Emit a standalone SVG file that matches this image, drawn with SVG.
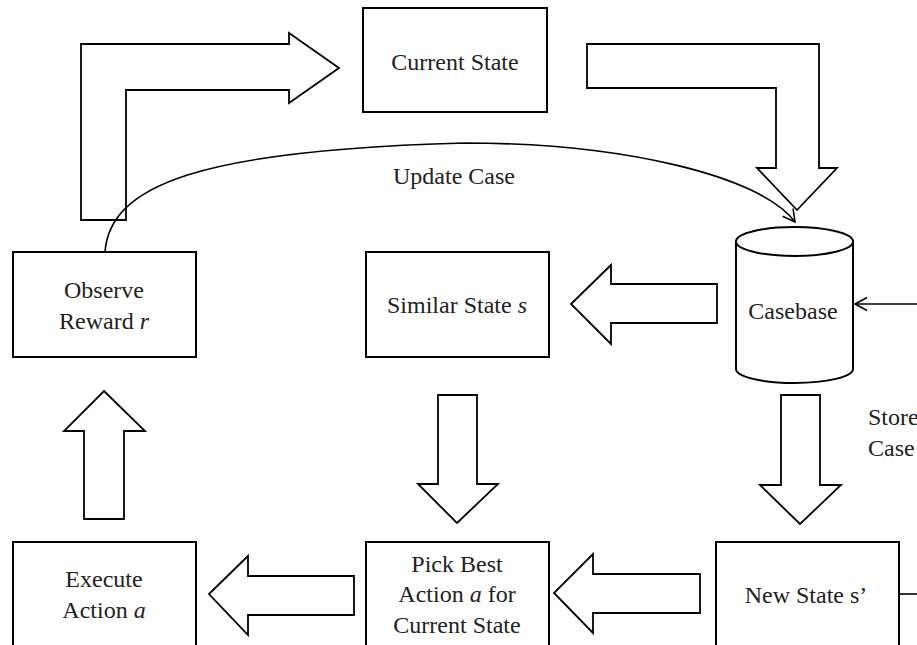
<svg xmlns="http://www.w3.org/2000/svg" width="917" height="645" viewBox="0 0 917 645">
<style>
.box{fill:#fff;stroke:#000;stroke-width:2}
.arr{fill:#fff;stroke:#000;stroke-width:1.8;stroke-linejoin:miter}
.ln{fill:none;stroke:#000;stroke-width:1.6}
text{font-family:"Liberation Serif","Times New Roman",serif;font-size:24px;fill:#222}
.c{text-anchor:middle}
</style>
<defs>
<marker id="open" markerWidth="16" markerHeight="16" refX="14" refY="8" orient="auto" markerUnits="userSpaceOnUse">
<path d="M2,1.5 L14,8 L2,14.5" fill="none" stroke="#000" stroke-width="1.6"/>
</marker>
</defs>
<rect width="917" height="645" fill="#fff"/>
<g id="connectors">
<polygon class="arr" points="81,220 81,44 289,44 289,33 339,68 289,103 289,90 126,90 126,220"/>
<polygon class="arr" points="587,44 819,44 819,168 837,168 797,210 757,168 776,168 776,88 587,88"/>
<polygon class="arr" points="571,304 611,265 611,284 717,284 717,323 611,323 611,344"/>
<polygon class="arr" points="781,395 820,395 820,485 841,485 800,524 760,485 781,485"/>
<polygon class="arr" points="438,395 477,395 477,484 498,484 457,523 418,484 438,484"/>
<polygon class="arr" points="104,391 145,431 124,431 124,519 84,519 84,431 64,431"/>
<polygon class="arr" points="209,594 248,556 248,576 354,576 354,615 248,615 248,635"/>
<polygon class="arr" points="554,593 593,554 593,574 700,574 700,613 593,613 593,633"/>
<path class="ln" d="M105,252 C110,185 200,150 465,143 C620,143 760,175 795,222" marker-end="url(#open)"/>
<path class="ln" d="M917,304 L855,304" marker-end="url(#open)"/>
<path class="ln" d="M899,594 L917,594"/>
<text x="868" y="425">Store</text>
<text x="868" y="456">Case</text>
<text class="c" x="454" y="184">Update Case</text>
</g>
<g id="current-state">
<rect class="box" x="363" y="8" width="184" height="104"/>
<text class="c" x="455" y="70">Current State</text>
</g>
<g id="observe-reward">
<rect class="box" x="13" y="252" width="183" height="105"/>
<text class="c" x="104" y="298">Observe</text>
<text class="c" x="104" y="329">Reward <tspan font-style="italic">r</tspan></text>
</g>
<g id="similar-state">
<rect class="box" x="366" y="252" width="183" height="105"/>
<text class="c" x="457" y="313">Similar State <tspan font-style="italic">s</tspan></text>
</g>
<g id="casebase">
<path class="box" d="M736,241.5 L736,369 A58.5,14 0 0 0 853,369 L853,241.5"/>
<ellipse class="box" cx="794.5" cy="241.5" rx="58.5" ry="14.5"/>
<text class="c" x="793" y="319">Casebase</text>
</g>
<g id="execute-action">
<rect class="box" x="13" y="542" width="183" height="120"/>
<text class="c" x="104" y="587">Execute</text>
<text class="c" x="104" y="618">Action <tspan font-style="italic">a</tspan></text>
</g>
<g id="pick-best">
<rect class="box" x="366" y="542" width="183" height="120"/>
<text class="c" x="457" y="572">Pick Best</text>
<text class="c" x="457" y="602">Action <tspan font-style="italic">a</tspan> for</text>
<text class="c" x="457" y="633">Current State</text>
</g>
<g id="new-state">
<rect class="box" x="716" y="542" width="183" height="120"/>
<text class="c" x="806" y="603">New State s’</text>
</g>
</svg>
